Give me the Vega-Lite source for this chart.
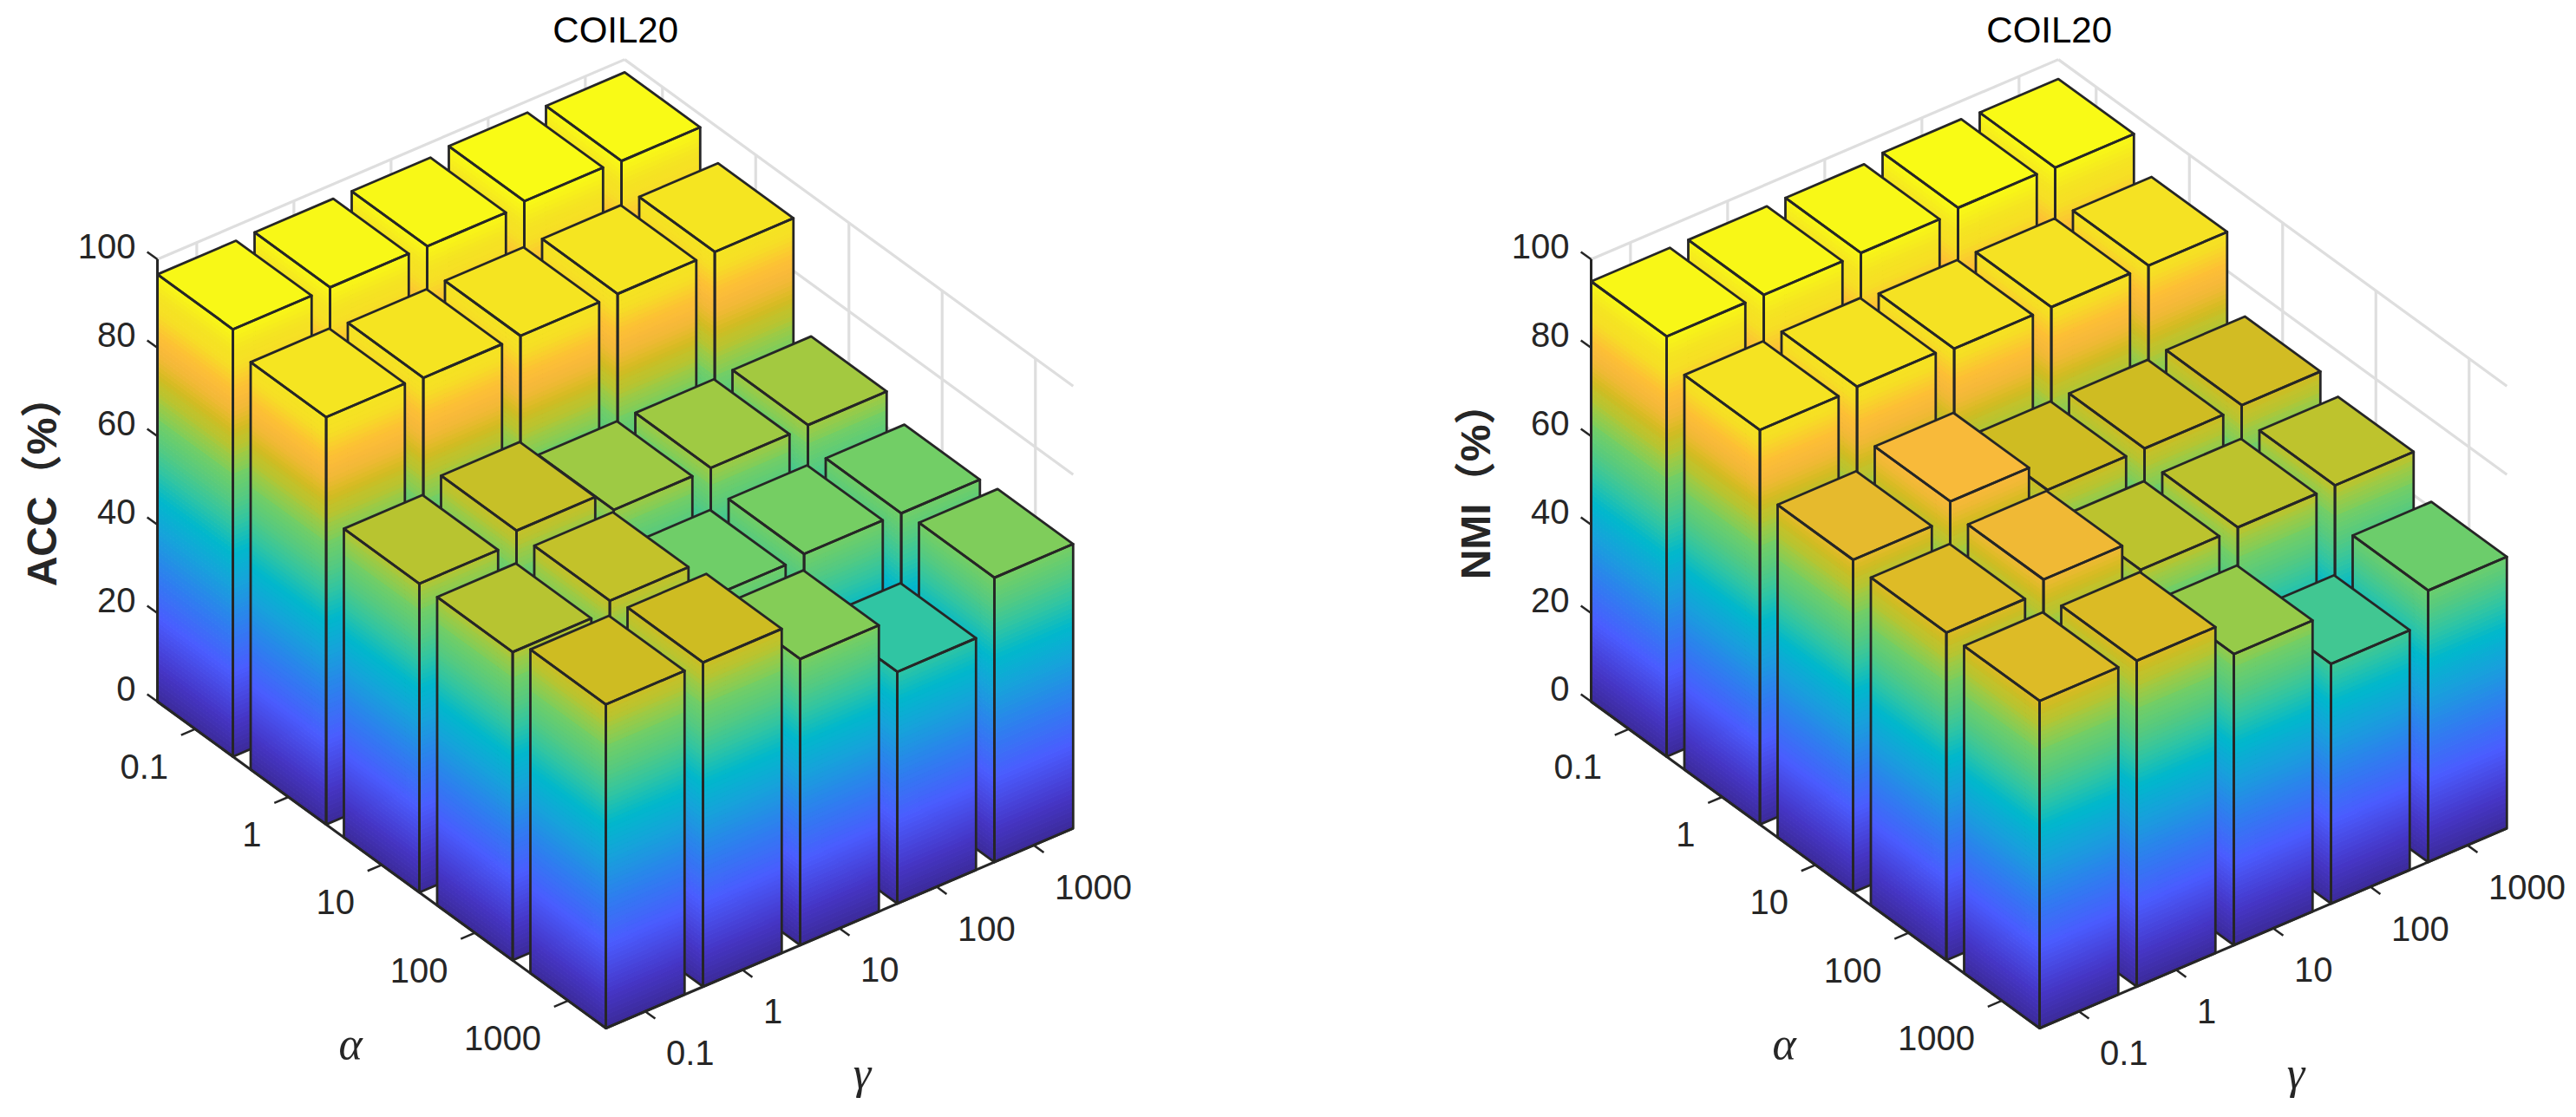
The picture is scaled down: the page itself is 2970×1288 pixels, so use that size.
{"$schema":"https://vega.github.io/schema/vega-lite/v6.json","width":2970,"height":1288,"autosize":{"type":"fit","contains":"padding"},"padding":0,"background":"white","config":{"view":{"stroke":null}},
"datasets":{
"bars":[
{"panel":"ACC","alpha":0.1,"gamma":1000,"value":97.1},{"panel":"ACC","alpha":0.1,"gamma":100,"value":97.4},{"panel":"ACC","alpha":0.1,"gamma":10,"value":96.6},{"panel":"ACC","alpha":0.1,"gamma":1,"value":96.7},{"panel":"ACC","alpha":0.1,"gamma":0.1,"value":96.6},
{"panel":"ACC","alpha":1,"gamma":1000,"value":91.9},{"panel":"ACC","alpha":1,"gamma":100,"value":91.8},{"panel":"ACC","alpha":1,"gamma":10,"value":91.7},{"panel":"ACC","alpha":1,"gamma":1,"value":91.6},{"panel":"ACC","alpha":1,"gamma":0.1,"value":92.1},
{"panel":"ACC","alpha":10,"gamma":1000,"value":68.1},{"panel":"ACC","alpha":10,"gamma":100,"value":67.8},{"panel":"ACC","alpha":10,"gamma":10,"value":67.7},{"panel":"ACC","alpha":10,"gamma":1,"value":72.4},{"panel":"ACC","alpha":10,"gamma":0.1,"value":69.8},
{"panel":"ACC","alpha":100,"gamma":1000,"value":63.5},{"panel":"ACC","alpha":100,"gamma":100,"value":63.7},{"panel":"ACC","alpha":100,"gamma":10,"value":63},{"panel":"ACC","alpha":100,"gamma":1,"value":71.9},{"panel":"ACC","alpha":100,"gamma":0.1,"value":69.7},
{"panel":"ACC","alpha":1000,"gamma":1000,"value":64.3},{"panel":"ACC","alpha":1000,"gamma":100,"value":52.4},{"panel":"ACC","alpha":1000,"gamma":10,"value":64.7},{"panel":"ACC","alpha":1000,"gamma":1,"value":73.3},{"panel":"ACC","alpha":1000,"gamma":0.1,"value":73.2},
{"panel":"NMI","alpha":0.1,"gamma":1000,"value":95.6},{"panel":"NMI","alpha":0.1,"gamma":100,"value":95.9},{"panel":"NMI","alpha":0.1,"gamma":10,"value":95.1},{"panel":"NMI","alpha":0.1,"gamma":1,"value":95},{"panel":"NMI","alpha":0.1,"gamma":0.1,"value":95},
{"panel":"NMI","alpha":1,"gamma":1000,"value":88.8},{"panel":"NMI","alpha":1,"gamma":100,"value":88.8},{"panel":"NMI","alpha":1,"gamma":10,"value":88.8},{"panel":"NMI","alpha":1,"gamma":1,"value":89.6},{"panel":"NMI","alpha":1,"gamma":0.1,"value":89.2},
{"panel":"NMI","alpha":10,"gamma":1000,"value":72.6},{"panel":"NMI","alpha":10,"gamma":100,"value":72.2},{"panel":"NMI","alpha":10,"gamma":10,"value":72.2},{"panel":"NMI","alpha":10,"gamma":1,"value":79},{"panel":"NMI","alpha":10,"gamma":0.1,"value":75.2},
{"panel":"NMI","alpha":100,"gamma":1000,"value":69.8},{"panel":"NMI","alpha":100,"gamma":100,"value":69.7},{"panel":"NMI","alpha":100,"gamma":10,"value":69.5},{"panel":"NMI","alpha":100,"gamma":1,"value":76.7},{"panel":"NMI","alpha":100,"gamma":0.1,"value":74.1},
{"panel":"NMI","alpha":1000,"gamma":1000,"value":61.4},{"panel":"NMI","alpha":1000,"gamma":100,"value":54.2},{"panel":"NMI","alpha":1000,"gamma":10,"value":65.8},{"panel":"NMI","alpha":1000,"gamma":1,"value":73.7},{"panel":"NMI","alpha":1000,"gamma":0.1,"value":74}
],
"ticks":[
{"axis":"z","tick":"0"},{"axis":"z","tick":"20"},{"axis":"z","tick":"40"},{"axis":"z","tick":"60"},{"axis":"z","tick":"80"},{"axis":"z","tick":"100"},
{"axis":"alpha","tick":"0.1"},{"axis":"alpha","tick":"1"},{"axis":"alpha","tick":"10"},{"axis":"alpha","tick":"100"},{"axis":"alpha","tick":"1000"},
{"axis":"gamma","tick":"0.1"},{"axis":"gamma","tick":"1"},{"axis":"gamma","tick":"10"},{"axis":"gamma","tick":"100"},{"axis":"gamma","tick":"1000"}
],
"axes":[{"axis":"alpha"},{"axis":"gamma"},{"axis":"z"}],
"labels":[
{"panel":"ACC","role":"title","text":"COIL20"},{"panel":"NMI","role":"title","text":"COIL20"},
{"panel":"ACC","role":"ylabel","text":"ACC（%）"},{"panel":"NMI","role":"ylabel","text":"NMI（%）"},
{"panel":"ACC","role":"alpha","text":"α"},{"panel":"NMI","role":"alpha","text":"α"},
{"panel":"ACC","role":"gamma","text":"γ"},{"panel":"NMI","role":"gamma","text":"γ"}
]},
"encoding":{
"x":{"field":"x","type":"quantitative","scale":{"domain":[0,2970],"nice":false,"zero":false},"axis":null},
"y":{"field":"y","type":"quantitative","scale":{"domain":[1288,0],"nice":false,"zero":false},"axis":null}
},
"layer":[
{"data":{"name":"ticks"},
"transform":[
{"calculate":"['ACC','NMI']","as":"panel"},{"flatten":["panel"]},
{"calculate":"[0,1]","as":"seg"},{"flatten":["seg"]},
{"filter":"datum.axis=='z'||datum.seg==0"},
{"calculate":"datum.axis=='z'?toNumber(datum.tick):round(log(toNumber(datum.tick))/LN10)+1.405","as":"pos"},
{"calculate":"datum.axis=='alpha'?datum.pos:0","as":"u0"},
{"calculate":"datum.axis=='alpha'?4.81:(datum.axis=='gamma'?datum.pos:(datum.seg==0?0:4.81))","as":"v0"},
{"calculate":"datum.axis=='z'?datum.pos:0","as":"z0"},
{"calculate":"datum.axis=='alpha'?datum.pos:(datum.axis=='z'&&datum.seg==1?4.81:0)","as":"u1"},
{"calculate":"datum.axis=='gamma'?datum.pos:4.81","as":"v1"},
{"calculate":"datum.axis=='z'?datum.pos:100","as":"z1"},
{"calculate":"(datum.panel=='NMI'?1653:0)+181.5+107.5*datum.u0+112*datum.v0","as":"x"},
{"calculate":"809+78.3*datum.u0-47.9*datum.v0-5.1*datum.z0","as":"y"},
{"calculate":"(datum.panel=='NMI'?1653:0)+181.5+107.5*datum.u1+112*datum.v1","as":"xe"},
{"calculate":"809+78.3*datum.u1-47.9*datum.v1-5.1*datum.z1","as":"ye"}
],
"mark":{"type":"rule","color":"#dedede","strokeWidth":3.2},
"encoding":{"x2":{"field":"xe"},"y2":{"field":"ye"}}},
{"data":{"name":"bars"},
"transform":[
{"calculate":"round(log(datum.alpha)/LN10)+1","as":"ai"},
{"calculate":"round(log(datum.gamma)/LN10)+1","as":"gi"},
{"calculate":"[0,1,2,3,4,5]","as":"face"},{"flatten":["face"]},
{"calculate":"[0,1,2,3,4,5,6,7,8,9,10,11,12,13,14,15,16,17,18,19,20,21,22,23,24,25,26,27,28,29,30,31,32,33,34,35,36,37,38,39,40,41,42,43,44,45,46,47,48,49,50,51,52,53,54,55,56,57,58,59,60,61,62,63,64,65,66,67,68,69,70,71,72,73,74,75,76,77,78,79,80,81,82,83,84,85,86,87,88,89,90,91,92,93,94,95,96,97,98,99]","as":"level"},{"flatten":["level"]},
{"filter":"(datum.face<2&&datum.level<datum.value)||(datum.face>=2&&datum.level==0)"},
{"calculate":"[0,1,2,3]","as":"k"},{"flatten":["k"]},
{"calculate":"datum.k==1||datum.k==2?0.81:0","as":"s"},
{"calculate":"datum.face==0||datum.face==3?datum.ai+datum.s:(datum.face==1||datum.face==4?datum.ai+0.81:datum.ai+datum.s)","as":"u"},
{"calculate":"datum.face==0||datum.face==3?datum.gi:(datum.face==1||datum.face==4?datum.gi+datum.s:datum.gi+(datum.k>=2?0.81:0))","as":"v"},
{"calculate":"datum.face<2?(datum.k<2?datum.level:min(datum.level+1,datum.value)):(datum.face==3||datum.face==4?(datum.k<2?0:datum.value):datum.value)","as":"h"},
{"calculate":"(datum.face<2?datum.level+0.5:datum.value)*97.4/(datum.panel=='NMI'?95.9:97.4)","as":"c"},
{"calculate":"datum.panel+'|'+datum.alpha+'|'+datum.gamma+'|'+datum.face+'|'+datum.level","as":"poly"},
{"calculate":"(datum.panel=='NMI'?1653:0)+181.5+107.5*datum.u+112*datum.v","as":"x"},
{"calculate":"809+78.3*datum.u-47.9*datum.v-5.1*datum.h","as":"y"}
],
"mark":{"type":"line","interpolate":"linear-closed","strokeJoin":"round"},
"encoding":{
"order":{"field":"k","type":"quantitative"},
"detail":{"field":"poly","type":"nominal"},
"fill":{"condition":{"test":"datum.face>=3","value":"transparent"},"field":"c","type":"quantitative","legend":null,
"scale":{"interpolate":"rgb","domain":[0,7.6,19,28.5,38,46,52.4,58,63.5,64.5,67.8,69.8,72,73,75,77.8,80,83,88,92,97.4],"range":["#3b2a98","#4535c5","#4a5cff","#307cf0","#18a0dc","#00b8cc","#30c5a3","#55ca80","#72ce66","#82cd58","#9fca43","#b8c430","#c4c22a","#ccbc22","#dcbb25","#f0b935","#f8b93a","#fdc035","#f6de25","#f5e521","#f9fb15"]}},
"stroke":{"condition":{"test":"datum.face>=3","value":"#262626"},"field":"c","type":"quantitative","legend":null,
"scale":{"interpolate":"rgb","domain":[0,7.6,19,28.5,38,46,52.4,58,63.5,64.5,67.8,69.8,72,73,75,77.8,80,83,88,92,97.4],"range":["#3b2a98","#4535c5","#4a5cff","#307cf0","#18a0dc","#00b8cc","#30c5a3","#55ca80","#72ce66","#82cd58","#9fca43","#b8c430","#c4c22a","#ccbc22","#dcbb25","#f0b935","#f8b93a","#fdc035","#f6de25","#f5e521","#f9fb15"]}},
"strokeWidth":{"condition":{"test":"datum.face>=3","value":2.8},"value":1}
}},
{"data":{"name":"axes"},
"transform":[
{"calculate":"['ACC','NMI']","as":"panel"},{"flatten":["panel"]},
{"calculate":"datum.axis=='gamma'?4.81:0","as":"u0"},
{"calculate":"datum.axis=='z'?0:4.81","as":"u1"},
{"calculate":"datum.axis=='gamma'?4.81:0","as":"v1"},
{"calculate":"datum.axis=='z'?100:0","as":"z1"},
{"calculate":"(datum.panel=='NMI'?1653:0)+181.5+107.5*datum.u0","as":"x"},
{"calculate":"809+78.3*datum.u0","as":"y"},
{"calculate":"(datum.panel=='NMI'?1653:0)+181.5+107.5*datum.u1+112*datum.v1","as":"xe"},
{"calculate":"809+78.3*datum.u1-47.9*datum.v1-5.1*datum.z1","as":"ye"}
],
"mark":{"type":"rule","color":"#262626","strokeWidth":3},
"encoding":{"x2":{"field":"xe"},"y2":{"field":"ye"}}},
{"data":{"name":"ticks"},
"transform":[
{"calculate":"['ACC','NMI']","as":"panel"},{"flatten":["panel"]},
{"calculate":"datum.axis=='z'?toNumber(datum.tick):round(log(toNumber(datum.tick))/LN10)+1.405","as":"pos"},
{"calculate":"datum.axis=='z'?0:(datum.axis=='alpha'?datum.pos:4.81)","as":"u0"},
{"calculate":"datum.axis=='gamma'?datum.pos:0","as":"v0"},
{"calculate":"datum.axis=='z'?datum.pos:0","as":"z0"},
{"calculate":"datum.axis=='z'?-0.11:(datum.axis=='alpha'?datum.pos:4.917)","as":"u1"},
{"calculate":"datum.axis=='gamma'?datum.pos:(datum.axis=='alpha'?-0.145:0)","as":"v1"},
{"calculate":"(datum.panel=='NMI'?1653:0)+181.5+107.5*datum.u0+112*datum.v0","as":"x"},
{"calculate":"809+78.3*datum.u0-47.9*datum.v0-5.1*datum.z0","as":"y"},
{"calculate":"(datum.panel=='NMI'?1653:0)+181.5+107.5*datum.u1+112*datum.v1","as":"xe"},
{"calculate":"809+78.3*datum.u1-47.9*datum.v1-5.1*datum.z0","as":"ye"}
],
"mark":{"type":"rule","color":"#262626","strokeWidth":2.5},
"encoding":{"x2":{"field":"xe"},"y2":{"field":"ye"}}},
{"data":{"name":"ticks"},
"transform":[
{"filter":"datum.axis!='gamma'"},
{"calculate":"['ACC','NMI']","as":"panel"},{"flatten":["panel"]},
{"calculate":"datum.axis=='z'?toNumber(datum.tick):round(log(toNumber(datum.tick))/LN10)+1.405","as":"pos"},
{"calculate":"datum.axis=='alpha'?datum.pos:0","as":"u"},
{"calculate":"datum.axis=='z'?datum.pos:0","as":"h"},
{"calculate":"(datum.panel=='NMI'?1653:0)+181.5+107.5*datum.u+(datum.axis=='z'?-25:-31)","as":"x"},
{"calculate":"809+78.3*datum.u-5.1*datum.h+(datum.axis=='z'?-13:45)","as":"y"}
],
"mark":{"type":"text","font":"Liberation Sans","fontSize":40,"color":"#262626","align":"right","baseline":"middle"},
"encoding":{"text":{"field":"tick","type":"nominal"}}},
{"data":{"name":"ticks"},
"transform":[
{"filter":"datum.axis=='gamma'"},
{"calculate":"['ACC','NMI']","as":"panel"},{"flatten":["panel"]},
{"calculate":"round(log(toNumber(datum.tick))/LN10)+1.405","as":"pos"},
{"calculate":"(datum.panel=='NMI'?1653:0)+181.5+107.5*4.81+112*datum.pos+24","as":"x"},
{"calculate":"809+78.3*4.81-47.9*datum.pos+50","as":"y"}
],
"mark":{"type":"text","font":"Liberation Sans","fontSize":40,"color":"#262626","align":"left","baseline":"middle"},
"encoding":{"text":{"field":"tick","type":"nominal"}}},
{"data":{"name":"labels"},
"transform":[
{"filter":"datum.role=='title'"},
{"calculate":"(datum.panel=='NMI'?1653:0)+181.5+112*4.81-10.5","as":"x"},
{"calculate":"809-47.9*4.81-5.1*100-32.5","as":"y"}
],
"mark":{"type":"text","font":"Liberation Sans","fontSize":42,"color":"#000000","align":"center","baseline":"middle"},
"encoding":{"text":{"field":"text","type":"nominal"}}},
{"data":{"name":"labels"},
"transform":[
{"filter":"datum.role=='ylabel'"},
{"calculate":"(datum.panel=='NMI'?1653:0)+181.5-130.5","as":"x"},
{"calculate":"809-5.1*50+1","as":"y"}
],
"mark":{"type":"text","font":"Liberation Sans, Noto Sans CJK SC","fontSize":48,"fontWeight":"bold","color":"#262626","align":"center","baseline":"middle","angle":270},
"encoding":{"text":{"field":"text","type":"nominal"}}},
{"data":{"name":"labels"},
"transform":[
{"filter":"datum.role=='alpha'||datum.role=='gamma'"},
{"calculate":"(datum.panel=='NMI'?1653:0)+181.5+107.5*4.81+(datum.role=='alpha'?-294.5:295.5)","as":"x"},
{"calculate":"809+78.3*4.81+(datum.role=='alpha'?19.5:53.5)","as":"y"}
],
"mark":{"type":"text","font":"Liberation Serif","fontStyle":"italic","fontSize":52,"color":"#262626","align":"center","baseline":"middle"},
"encoding":{"text":{"field":"text","type":"nominal"}}}
]}
